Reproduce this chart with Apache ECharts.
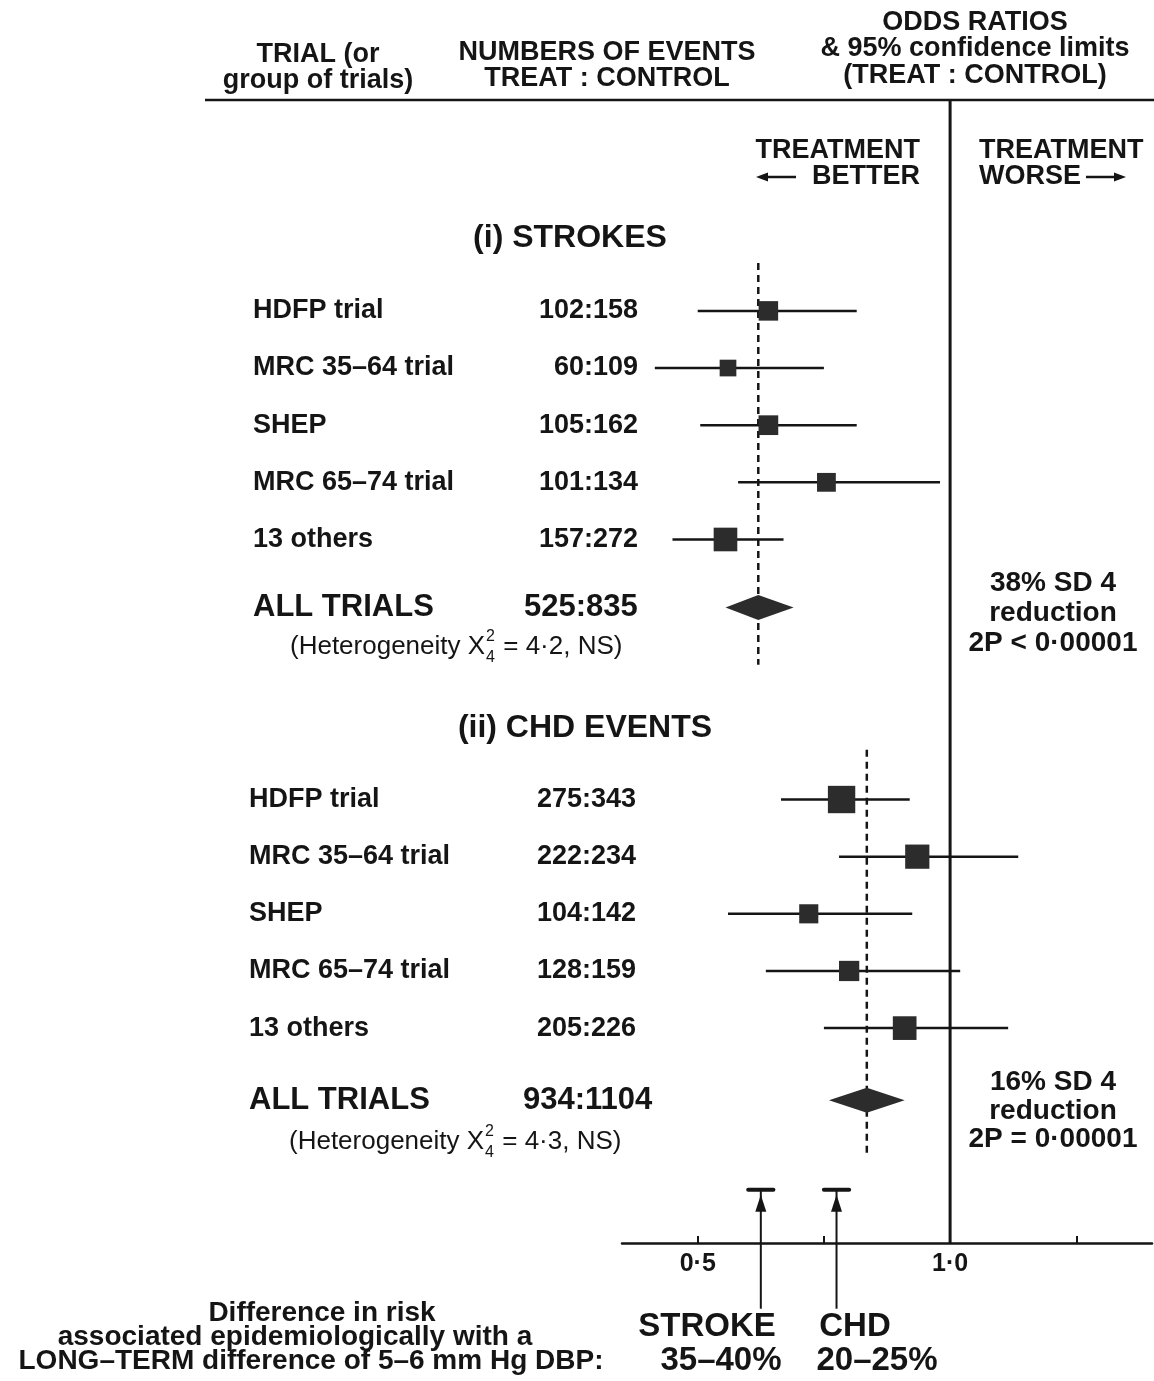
<!DOCTYPE html>
<html>
<head>
<meta charset="utf-8">
<script src="https://cdn.jsdelivr.net/npm/echarts@6/dist/echarts.min.js"></script>
<style>
  html, body { margin: 0; padding: 0; background: #ffffff; }
  #chart { width: 1154px; height: 1381px; }
</style>
</head>
<body>
<div id="chart"></div>
<script>
// Randomised trials of blood-pressure lowering: strokes and CHD events,
// odds ratios (treat : control) with 95% confidence limits.
const trialNames = ['HDFP trial', 'MRC 35–64 trial', 'SHEP', 'MRC 65–74 trial', '13 others'];

const strokeTreat   = [102, 60, 105, 101, 157];
const strokeControl = [158, 109, 162, 134, 272];
const strokeOR      = [0.64, 0.56, 0.64, 0.755, 0.555];
const strokeLow     = [0.50, 0.415, 0.505, 0.58, 0.45];
const strokeHigh    = [0.815, 0.75, 0.815, 0.98, 0.67];
const strokeOverall = [0.62, 0.555, 0.69];          // odds ratio, lower, upper
const strokeOverallEvents = [525, 835];
const strokeHet  = ['4·2', 'NS'];
const strokeNote = ['38% SD 4', 'reduction', '2P < 0·00001'];

const chdTreat   = [275, 222, 104, 128, 205];
const chdControl = [343, 234, 142, 159, 226];
const chdOR      = [0.785, 0.935, 0.72, 0.80, 0.91];
const chdLow     = [0.665, 0.78, 0.56, 0.635, 0.75];
const chdHigh    = [0.92, 1.135, 0.925, 1.02, 1.115];
const chdOverall = [0.835, 0.76, 0.91];
const chdOverallEvents = [934, 1104];
const chdHet  = ['4·3', 'NS'];
const chdNote = ['16% SD 4', 'reduction', '2P = 0·00001'];

// Risk difference expected epidemiologically from a long-term 5–6 mm Hg DBP
// difference, as odds-ratio ranges
const expectedStroke = [0.60, 0.65];
const expectedCHD    = [0.75, 0.80];
const expectedNames  = ['STROKE', 'CHD'];
const expectedLabels = ['35–40%', '20–25%'];

const xTicks      = [0.5, 0.75, 1.0, 1.25];
const xTickLabels = [0.5, 1.0];

// ---------------------------------------------------------------------------
const FONT = '"Liberation Sans", Arial, Helvetica, sans-serif';
const INK = '#151515';
const BOX = '#2c2c2c';

const measureCtx = document.createElement('canvas').getContext('2d');
function textWidth(t, font) { measureCtx.font = font; return measureCtx.measureText(t).width; }
function font(size, weight) { return (weight || 'bold') + ' ' + size + 'px ' + FONT; }

// vertical layout in row units (value y axis, 0 = header rule, 20 = x axis)
const sections = [
  {
    title: '(i) STROKES', titleX: 570, titleRow: 2.41,
    firstRow: 3.69, overallRow: 8.88, hetRow: 9.57, dash: [2.85, 9.88],
    nameX: 253, numRight: 638, allNumLeft: 524, hetX: 290,
    noteX: 1053, noteRows: [8.45, 8.98, 9.5],
    treat: strokeTreat, control: strokeControl, or: strokeOR, low: strokeLow, high: strokeHigh,
    overall: strokeOverall, overallEvents: strokeOverallEvents, het: strokeHet, note: strokeNote
  },
  {
    title: '(ii) CHD EVENTS', titleX: 585, titleRow: 10.99,
    firstRow: 12.24, overallRow: 17.5, hetRow: 18.23, dash: [11.37, 18.5],
    nameX: 249, numRight: 636, allNumLeft: 523, hetX: 289,
    noteX: 1053, noteRows: [17.19, 17.69, 18.19],
    treat: chdTreat, control: chdControl, or: chdOR, low: chdLow, high: chdHigh,
    overall: chdOverall, overallEvents: chdOverallEvents, het: chdHet, note: chdNote
  }
];
const expectedRow = 19.07;
const arrowEndRow = 21.15;

// one data item per trial row: [or, low, high, row, treat, control, sectionIndex, trialIndex]
const trialData = [];
sections.forEach((s, si) => {
  s.or.forEach((v, i) => {
    trialData.push([v, s.low[i], s.high[i], s.firstRow + i, s.treat[i], s.control[i], si, i]);
  });
});
// one data item per section summary: [or, low, high, sectionIndex]
const overallData = sections.map((s, si) => [s.overall[0], s.overall[1], s.overall[2], si]);
const expectedData = [
  [expectedStroke[0], expectedStroke[1], 0],
  [expectedCHD[0], expectedCHD[1], 1]
];

function txt(x, y, text, f, align, vAlign) {
  return {
    type: 'text', x: x, y: y, silent: true,
    style: { text: text, font: f, fill: INK, align: align || 'left', verticalAlign: vAlign || 'middle' }
  };
}

function renderTrial(params, api) {
  const s = sections[api.value(6)];
  const row = api.value(3);
  const p = api.coord([api.value(0), row]);
  const xl = api.coord([api.value(1), row])[0];
  const xh = api.coord([api.value(2), row])[0];
  const n = api.value(4) + api.value(5);
  const size = 5 + 0.9 * Math.sqrt(n);     // box area grows with the number of events
  return {
    type: 'group',
    children: [
      { type: 'line', shape: { x1: xl, y1: p[1], x2: xh, y2: p[1] },
        style: { stroke: INK, lineWidth: 2.5 } },
      { type: 'rect', shape: { x: p[0] - size / 2, y: p[1] - size / 2, width: size, height: size },
        style: { fill: BOX } },
      txt(s.nameX, p[1], trialNames[api.value(7)], font(27)),
      txt(s.numRight, p[1], api.value(4) + ':' + api.value(5), font(27), 'right')
    ]
  };
}

function renderOverall(params, api) {
  const s = sections[api.value(3)];
  const row = s.overallRow;
  const p = api.coord([api.value(0), row]);
  const xl = api.coord([api.value(1), row])[0];
  const xh = api.coord([api.value(2), row])[0];
  const hh = 12.5;
  const d0 = api.coord([api.value(0), s.dash[0]]);
  const d1 = api.coord([api.value(0), s.dash[1]]);
  const titleY = api.coord([1, s.titleRow])[1];
  const hetY = api.coord([1, s.hetRow])[1];

  // heterogeneity statement with chi-square superscript/subscript
  const fMain = font(26, 'normal');
  const fSmall = font(16, 'normal');
  const partA = '(Heterogeneity X';
  const partB = ' = ' + s.het[0] + ', ' + s.het[1] + ')';
  const wA = textWidth(partA, fMain);
  const wS = textWidth('2', fSmall);

  const children = [
    { type: 'line', shape: { x1: d0[0], y1: d0[1], x2: d1[0], y2: d1[1] },
      style: { stroke: INK, lineWidth: 2.5, lineDash: [7, 5] } },
    { type: 'polygon', shape: { points: [[xl, p[1]], [p[0], p[1] - hh], [xh, p[1]], [p[0], p[1] + hh]] },
      style: { fill: BOX } },
    txt(s.titleX, titleY, s.title, font(32), 'center'),
    txt(s.nameX, p[1], 'ALL TRIALS', font(31)),
    txt(s.allNumLeft, p[1], s.overallEvents[0] + ':' + s.overallEvents[1], font(31)),
    txt(s.hetX, hetY, partA, fMain),
    txt(s.hetX + wA + 1, hetY - 10, '2', fSmall),
    txt(s.hetX + wA + 1, hetY + 11, '4', fSmall),
    txt(s.hetX + wA + wS + 2, hetY, partB, fMain)
  ];
  s.note.forEach((line, i) => {
    const y = api.coord([1, s.noteRows[i]])[1];
    children.push(txt(s.noteX, y, line, font(28), 'center'));
  });
  return { type: 'group', children: children };
}

function renderExpected(params, api) {
  const lo = api.coord([api.value(0), expectedRow]);
  const hi = api.coord([api.value(1), expectedRow]);
  const mid = api.coord([(api.value(0) + api.value(1)) / 2, expectedRow]);
  const end = api.coord([(api.value(0) + api.value(1)) / 2, arrowEndRow]);
  return {
    type: 'group',
    children: [
      { type: 'line', shape: { x1: lo[0], y1: lo[1], x2: hi[0], y2: hi[1] },
        style: { stroke: INK, lineWidth: 4, lineCap: 'round' } },
      { type: 'line', shape: { x1: mid[0], y1: mid[1], x2: end[0], y2: end[1] },
        style: { stroke: INK, lineWidth: 2 } },
      { type: 'polygon',
        shape: { points: [[mid[0], mid[1] + 5], [mid[0] - 5.5, mid[1] + 22], [mid[0] + 5.5, mid[1] + 22]] },
        style: { fill: INK } }
    ]
  };
}

function renderNoEffect(params, api) {
  const top = api.coord([api.value(0), 0]);
  const bottom = api.coord([api.value(0), 20]);
  return { type: 'line', shape: { x1: top[0], y1: top[1], x2: bottom[0], y2: bottom[1] },
    style: { stroke: INK, lineWidth: 3 } };
}

// static headings around the plot
const headerFont = font(27);
const graphic = [
  { type: 'line', shape: { x1: 205, y1: 100, x2: 1154, y2: 100 }, style: { stroke: INK, lineWidth: 2.5 } },
  txt(318, 55, 'TRIAL (or', headerFont, 'center'),
  txt(318, 81, 'group of trials)', headerFont, 'center'),
  txt(607, 53, 'NUMBERS OF EVENTS', headerFont, 'center'),
  txt(607, 79, 'TREAT : CONTROL', headerFont, 'center'),
  txt(975, 23, 'ODDS RATIOS', headerFont, 'center'),
  txt(975, 49, '& 95% confidence limits', headerFont, 'center'),
  txt(975, 76, '(TREAT : CONTROL)', headerFont, 'center'),

  txt(920, 151, 'TREATMENT', font(27), 'right'),
  txt(920, 177, 'BETTER', font(27), 'right'),
  { type: 'line', shape: { x1: 764, y1: 177, x2: 796, y2: 177 }, style: { stroke: INK, lineWidth: 2.5 } },
  { type: 'polygon', shape: { points: [[756, 177], [768, 172.5], [768, 181.5]] }, style: { fill: INK } },
  txt(979, 151, 'TREATMENT', font(27)),
  txt(979, 177, 'WORSE', font(27)),
  { type: 'line', shape: { x1: 1086, y1: 177, x2: 1118, y2: 177 }, style: { stroke: INK, lineWidth: 2.5 } },
  { type: 'polygon', shape: { points: [[1126, 177], [1114, 172.5], [1114, 181.5]] }, style: { fill: INK } },

  txt(322, 1313, 'Difference in risk', font(28), 'center'),
  txt(295, 1337, 'associated epidemiologically with a', font(28), 'center'),
  txt(311, 1361, 'LONG–TERM difference of 5–6 mm Hg DBP:', font(28), 'center'),
  txt(707, 1327, expectedNames[0], font(33), 'center'),
  txt(721, 1361, expectedLabels[0], font(33), 'center'),
  txt(855, 1327, expectedNames[1], font(33), 'center'),
  txt(877, 1361, expectedLabels[1], font(33), 'center')
];

const chart = echarts.init(document.getElementById('chart'), null, { renderer: 'canvas' });
chart.setOption({
  backgroundColor: '#ffffff',
  animation: false,
  grid: { left: 622, right: 2, top: 100, bottom: 138, containLabel: false },
  xAxis: {
    type: 'value', min: 0.35, max: 1.4, position: 'bottom',
    axisLine: { show: true, onZero: false, lineStyle: { color: INK, width: 2.5 } },
    axisTick: { show: true, inside: true, length: 7, customValues: xTicks, lineStyle: { color: INK, width: 2 } },
    axisLabel: {
      customValues: xTickLabels, margin: 9, color: INK,
      fontFamily: FONT, fontWeight: 'bold', fontSize: 25,
      formatter: v => Number(v).toFixed(1).replace('.', '·')
    },
    splitLine: { show: false }
  },
  yAxis: { type: 'value', min: 0, max: 20, inverse: true, show: false, axisLine: { onZero: false } },
  graphic: graphic,
  series: [
    { type: 'custom', name: 'no effect', renderItem: renderNoEffect, data: [[1.0]],
      encode: { x: 0 }, clip: false, silent: true, z: 1 },
    { type: 'custom', name: 'trials', renderItem: renderTrial, data: trialData,
      encode: { x: [0, 1, 2], y: 3 }, clip: false, silent: true, z: 3 },
    { type: 'custom', name: 'all trials', renderItem: renderOverall, data: overallData,
      encode: { x: [0, 1, 2] }, clip: false, silent: true, z: 2 },
    { type: 'custom', name: 'expected', renderItem: renderExpected, data: expectedData,
      encode: { x: [0, 1] }, clip: false, silent: true, z: 2 }
  ]
});
</script>
</body>
</html>
